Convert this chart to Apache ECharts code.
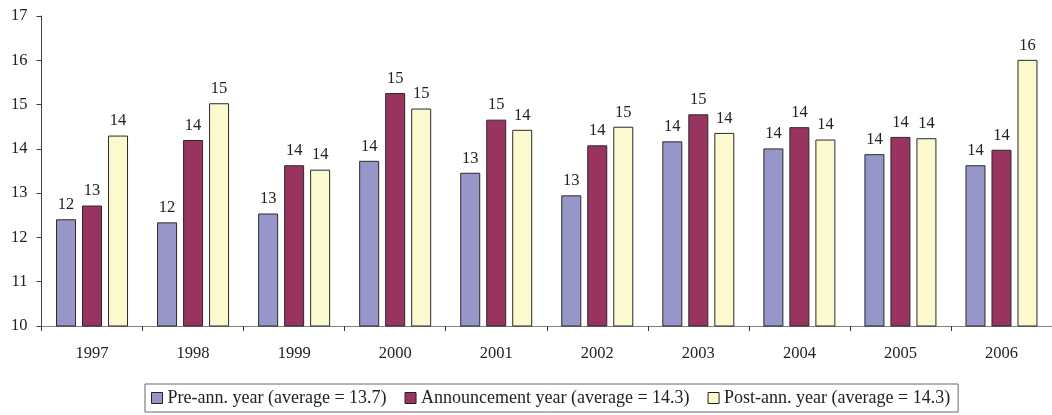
<!DOCTYPE html>
<html>
<head>
<meta charset="utf-8">
<script src="https://cdn.jsdelivr.net/npm/echarts@6/dist/echarts.min.js"></script>
<style>
  html, body { margin: 0; padding: 0; background: #fff; }
  #chart { width: 1052px; height: 415px; }
</style>
</head>
<body>
<div id="chart"></div>
<script>
// Years on the category axis
const years = ['1997', '1998', '1999', '2000', '2001', '2002', '2003', '2004', '2005', '2006'];

// Values per year for each period relative to the announcement
const preAnn = [12.41, 12.34, 12.54, 13.73, 13.46, 12.95, 14.17, 14.01, 13.88, 13.63];
const announcement = [12.72, 14.20, 13.63, 15.26, 14.66, 14.08, 14.78, 14.49, 14.27, 13.98];
const postAnn = [14.30, 15.03, 13.53, 14.91, 14.43, 14.50, 14.36, 14.21, 14.24, 16.01];

// Series names shown in the legend
const seriesNames = [
  'Pre-ann. year (average = 13.7)',
  'Announcement year (average = 14.3)',
  'Post-ann. year (average = 14.3)'
];

// Value axis range
const yMin = 10;
const yMax = 17;
const yStep = 1;

const FONT = '"Liberation Serif", "DejaVu Serif", serif';
const colors = ['#9696c8', '#993360', '#fdf9cf'];

function makeSeries(name, data, color) {
  return {
    name: name,
    type: 'bar',
    data: data,
    barWidth: 20,
    barGap: '30%',
    itemStyle: { color: color, borderColor: '#2a2a2a', borderWidth: 1 },
    label: {
      show: true,
      position: 'top',
      distance: 6,
      fontFamily: FONT,
      fontSize: 16.5,
      color: '#222',
      formatter: p => Math.round(p.value)
    }
  };
}

const chart = echarts.init(document.getElementById('chart'), null, { renderer: 'canvas' });
chart.setOption({
  animation: false,
  backgroundColor: '#fff',
  grid: { left: 41.5, right: -14.5, top: 16, bottom: 89, containLabel: false },
  legend: {
    left: 145,
    top: 384,
    data: seriesNames,
    icon: 'rect',
    itemWidth: 11,
    itemHeight: 11,
    itemGap: 18,
    padding: [5, 8, 5, 6],
    borderColor: '#666',
    borderWidth: 1,
    borderRadius: 0,
    itemStyle: { borderColor: '#222', borderWidth: 1 },
    textStyle: { fontFamily: FONT, fontSize: 18, color: '#222' }
  },
  xAxis: {
    type: 'category',
    data: years,
    axisLine: { lineStyle: { color: '#808080', width: 1 } },
    axisTick: { show: true, length: 5, inside: false, lineStyle: { color: '#333' } },
    axisLabel: { fontFamily: FONT, fontSize: 16.5, color: '#222', margin: 19 },
    splitLine: { show: false }
  },
  yAxis: {
    type: 'value',
    min: yMin,
    max: yMax,
    interval: yStep,
    axisLine: { show: true, lineStyle: { color: '#404040', width: 1 } },
    axisTick: { show: true, length: 5, inside: false, lineStyle: { color: '#404040' } },
    axisLabel: { fontFamily: FONT, fontSize: 16.5, color: '#222', margin: 14 },
    splitLine: { show: false }
  },
  series: [
    makeSeries(seriesNames[0], preAnn, colors[0]),
    makeSeries(seriesNames[1], announcement, colors[1]),
    makeSeries(seriesNames[2], postAnn, colors[2])
  ]
});
</script>
</body>
</html>
